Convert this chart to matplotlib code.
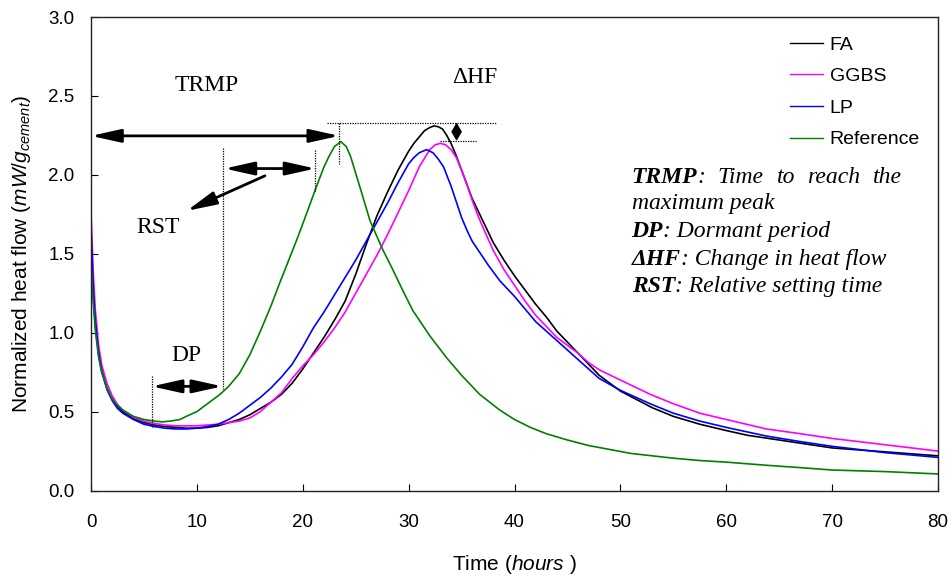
import matplotlib
matplotlib.use("Agg")
import matplotlib.pyplot as plt

# ---- data (time in hours, heat flow in mW/g) ----
t_fa = [0, 0.2, 0.4, 0.7, 1, 1.5, 2, 2.5, 3, 4, 5, 6, 7, 8, 9, 10, 11, 12, 13, 14, 15, 16, 17, 18,
        19, 20, 21, 22, 23, 24, 25, 26, 27, 28, 29, 30, 30.5, 31, 31.5, 32, 32.4, 32.8, 33.2,
        33.6, 34, 34.5, 35, 35.5, 36, 37, 38, 39, 40, 41, 42, 43, 44, 45, 46, 47, 48, 49, 50,
        51, 52, 53, 55, 57.5, 60, 62, 64, 67, 70, 73, 76, 80]
y_fa = [1.58, 1.25, 1.05, 0.87, 0.76, 0.65, 0.58, 0.535, 0.50, 0.455, 0.43, 0.415, 0.405, 0.40,
        0.395, 0.395, 0.40, 0.41, 0.43, 0.45, 0.48, 0.52, 0.56, 0.61, 0.68, 0.77, 0.87, 0.97, 1.08,
        1.20, 1.37, 1.56, 1.74, 1.89, 2.03, 2.15, 2.20, 2.24, 2.28, 2.30, 2.31, 2.305, 2.29, 2.25,
        2.20, 2.12, 2.03, 1.94, 1.85, 1.71, 1.57, 1.46, 1.36, 1.27, 1.18, 1.10, 1.01, 0.94, 0.87,
        0.80, 0.73, 0.68, 0.63, 0.595, 0.56, 0.525, 0.47, 0.42, 0.38, 0.35, 0.33, 0.30, 0.27,
        0.255, 0.24, 0.22]

t_ggbs = [0, 0.2, 0.4, 0.7, 1, 1.5, 2, 2.5, 3, 4, 5, 6, 7, 8, 9, 10, 11, 12, 13, 14, 15, 16, 17,
          18, 19, 20, 21, 22, 23, 24, 25, 26, 27, 28, 29, 30, 31, 32, 32.5, 33, 33.5, 34, 34.5, 35,
          35.5, 36, 36.5, 37, 38, 39, 40, 41, 42, 43, 44, 45, 46, 47, 48, 50, 52.8, 55, 57.5, 60,
          63.8, 67, 70, 75, 80]
y_ggbs = [1.76, 1.40, 1.15, 0.93, 0.80, 0.68, 0.60, 0.545, 0.51, 0.465, 0.44, 0.425, 0.415, 0.41,
          0.41, 0.41, 0.415, 0.42, 0.43, 0.44, 0.46, 0.50, 0.56, 0.62, 0.71, 0.79, 0.86, 0.94, 1.03,
          1.13, 1.25, 1.37, 1.49, 1.62, 1.76, 1.90, 2.05, 2.16, 2.19, 2.20, 2.19, 2.16, 2.11, 2.03,
          1.94, 1.84, 1.75, 1.67, 1.52, 1.40, 1.30, 1.20, 1.11, 1.04, 0.97, 0.92, 0.87, 0.81,
          0.765, 0.70, 0.61, 0.55, 0.49, 0.45, 0.39, 0.36, 0.33, 0.29, 0.25]

t_lp = [0, 0.2, 0.4, 0.7, 1, 1.5, 2, 2.5, 3, 4, 5, 6, 7, 8, 9, 10, 11, 12, 13, 14, 15, 16, 17, 18,
        19, 20, 21, 22, 23, 24, 25, 26, 27, 28, 29, 30, 30.5, 31, 31.7, 32.3, 32.8, 33.3, 34,
        34.5, 35, 35.5, 36, 36.7, 37.5, 38.6, 40, 41, 42, 43, 44, 45, 46, 47, 48, 50, 52.8, 55,
        57.5, 60, 63.8, 67, 70, 75, 80]
y_lp = [1.67, 1.30, 1.08, 0.88, 0.76, 0.64, 0.57, 0.52, 0.49, 0.45, 0.42, 0.405, 0.395, 0.39, 0.39,
        0.395, 0.405, 0.42, 0.45, 0.49, 0.54, 0.59, 0.65, 0.72, 0.80, 0.91, 1.03, 1.13, 1.24, 1.35,
        1.46, 1.58, 1.70, 1.82, 1.95, 2.07, 2.11, 2.14, 2.16, 2.14, 2.10, 2.05, 1.93, 1.83, 1.73,
        1.65, 1.58, 1.51, 1.43, 1.33, 1.23, 1.15, 1.07, 1.01, 0.95, 0.89, 0.83, 0.77, 0.71, 0.635,
        0.55, 0.49, 0.44, 0.40, 0.345, 0.31, 0.28, 0.24, 0.21]

t_ref = [0, 0.2, 0.4, 0.7, 1, 1.5, 2, 2.5, 3, 4, 5, 6, 6.7, 7.5, 8.4, 9, 10, 11, 12.2, 13, 14, 15,
         16, 17, 17.85, 18.5, 19.5, 20.5, 21.15, 22, 22.5, 23, 23.6, 24.1, 24.5, 25, 25.5, 26.35,
         27, 27.6, 28.5, 29.5, 30.4, 32, 33.6, 35, 36.7, 38.6, 40, 41.5, 43, 45, 47, 49, 51, 53,
         55, 57.5, 60, 63.8, 67, 70, 75, 80]
y_ref = [1.45, 1.20, 1.02, 0.85, 0.75, 0.65, 0.58, 0.54, 0.51, 0.47, 0.45, 0.44, 0.435, 0.44, 0.45,
         0.47, 0.50, 0.55, 0.61, 0.66, 0.74, 0.86, 1.01, 1.17, 1.32, 1.43, 1.60, 1.78, 1.90, 2.05,
         2.12, 2.18, 2.21, 2.18, 2.12, 2.01, 1.90, 1.71, 1.61, 1.52, 1.40, 1.26, 1.14, 0.98, 0.84,
         0.73, 0.61, 0.51, 0.45, 0.40, 0.36, 0.32, 0.285, 0.26, 0.235, 0.22, 0.205, 0.19, 0.18,
         0.16, 0.145, 0.13, 0.12, 0.105]

series_names = ["FA", "GGBS", "LP", "Reference"]
series_colors = ["black", "#ff00ff", "#0000ff", "#008000"]

x_ticks = [0, 10, 20, 30, 40, 50, 60, 70, 80]
y_ticks = [0.0, 0.5, 1.0, 1.5, 2.0, 2.5, 3.0]

plt.rcParams['font.family'] = ['Liberation Sans', 'DejaVu Sans']
plt.rcParams['mathtext.fontset'] = 'custom'
plt.rcParams['mathtext.rm'] = 'Liberation Sans'
plt.rcParams['mathtext.it'] = 'Liberation Sans:italic'
plt.rcParams['mathtext.bf'] = 'Liberation Sans:bold'

fig = plt.figure(figsize=(9.52, 5.79), dpi=100)
fig.subplots_adjust(left=0.0956, right=0.9853, bottom=0.1528, top=0.9706)
ax = fig.add_subplot(111)

for t, y, name, c in zip([t_fa, t_ggbs, t_lp, t_ref], [y_fa, y_ggbs, y_lp, y_ref],
                         series_names, series_colors):
    ax.plot(t, y, color=c, lw=1.2, label=name)

ax.set_xlim(0, 80)
ax.set_ylim(0, 3.0)
ax.set_xticks(x_ticks)
ax.set_yticks(y_ticks)
ax.set_yticklabels(["%.1f" % v for v in y_ticks])
ax.tick_params(direction='in', length=5, width=0.8, labelsize=13.5, top=False, right=False)
ax.tick_params(axis='x', pad=17)
ax.tick_params(axis='y', pad=12)
for s in ax.spines.values():
    s.set_linewidth(1.0)
    s.set_color('#222222')

ax.set_xlabel(r'Time ($hours$ )', fontsize=15, labelpad=16)
ax.set_ylabel(r'Normalized heat flow ($mW/g_{cement}$)', fontsize=15, labelpad=11)

leg = ax.legend(loc='upper left', bbox_to_anchor=(66.0, 2.88), bbox_transform=ax.transData,
                frameon=False, fontsize=14, borderpad=0, borderaxespad=0, labelspacing=0.72,
                handlelength=1.7, handletextpad=0.36)
for h in leg.get_lines():
    h.set_linewidth(1.0)

# ---- annotations ----
serif = ['Liberation Serif', 'DejaVu Serif']
dot = dict(color='black', lw=0.9, ls=(0, (1, 1)))
big_head = dict(arrowstyle='<|-|>,head_length=1.8,head_width=0.4', color='black', lw=2,
                shrinkA=0, shrinkB=0, mutation_scale=10)
one_head = dict(arrowstyle='-|>,head_length=1.8,head_width=0.4', color='black', lw=2,
                shrinkA=0, shrinkB=0, mutation_scale=10)
small_head = dict(arrowstyle='<|-|>,head_length=0.55,head_width=0.32', color='black', lw=1,
                  shrinkA=0, shrinkB=0, mutation_scale=10)

# TRMP
ax.annotate('', xy=(0, 2.247), xytext=(23.45, 2.247), arrowprops=big_head)
ax.plot([23.45, 23.45], [2.33, 2.07], **dot)
ax.text(10.95, 2.563, 'TRMP', family=serif, fontsize=17, ha='center', va='center')

# delta HF
ax.plot([22.25, 38.25], [2.331, 2.331], **dot)
ax.plot([32.95, 36.35], [2.215, 2.215], **dot)
ax.annotate('', xy=(34.53, 2.331), xytext=(34.53, 2.215), arrowprops=small_head)
ax.text(36.26, 2.616, '\u0394HF', family=serif, fontsize=17, ha='center', va='center')

# RST
ax.plot([12.5, 12.5], [2.17, 0.644], **dot)
ax.plot([21.2, 21.2], [2.156, 1.90], **dot)
ax.annotate('', xy=(12.6, 2.04), xytext=(21.2, 2.04), arrowprops=big_head)
ax.annotate('', xy=(9.04, 1.772), xytext=(16.43, 1.994), arrowprops=one_head)
ax.text(6.36, 1.667, 'RST', family=serif, fontsize=17, ha='center', va='center')

# DP
ax.plot([5.73, 5.73], [0.728, 0.40], **dot)
ax.annotate('', xy=(5.73, 0.66), xytext=(12.4, 0.66), arrowprops=big_head)
ax.text(9.04, 0.854, 'DP', family=serif, fontsize=17, ha='center', va='center')

# definitions block
def_fs = 17
x0 = 51.06


def key_line(y, key, rest):
    k = ax.text(x0, y, key, family=serif, fontsize=def_fs, fontweight='bold', style='italic',
                va='baseline')
    ax.annotate(rest, xy=(1, 0), xycoords=k, va='bottom', ha='left', family=serif,
                fontsize=def_fs, style='italic')


# first line is justified in the original
key_line(1.951, 'TRMP', ':')
for wx, w in zip([59.2, 64.77, 67.6], ['Time', 'to', 'reach']):
    ax.text(wx, 1.951, w, family=serif, fontsize=def_fs, style='italic', va='baseline')
ax.text(76.55, 1.951, 'the', family=serif, fontsize=def_fs, style='italic', va='baseline',
        ha='right')
ax.text(x0, 1.783, 'maximum peak', family=serif, fontsize=def_fs, style='italic', va='baseline')
key_line(1.608, 'DP', ': Dormant period')
key_line(1.430, '\u0394HF', ': Change in heat flow')
key_line(1.255, 'RST', ': Relative setting time')

fig.savefig('out.png', dpi=100)
